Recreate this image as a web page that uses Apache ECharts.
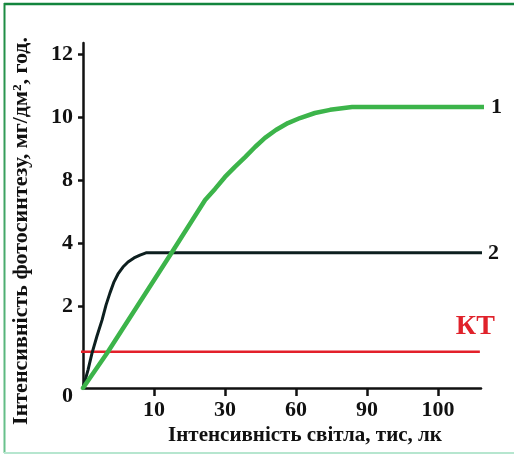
<!DOCTYPE html>
<html>
<head>
<meta charset="utf-8">
<script src="https://cdn.jsdelivr.net/npm/echarts@6/dist/echarts.min.js"></script>
<style>
  html, body { margin: 0; padding: 0; background: #fff; }
  #chart { width: 514px; height: 455px; }
</style>
</head>
<body>
<div id="chart"></div>
<script>
// Light intensity tick labels, thousand lux (placed on evenly spaced slots)
const xTickLabels = [0, 10, 30, 60, 90, 100];
// Photosynthesis rate tick labels, mg/dm² per hour
const yTickLabels = [0, 2, 4, 8, 10, 12];

// Curve 1 – light-loving plant
const curve1X = [0, 3.4, 15.1, 24.4, 27.2, 30, 34.2, 38.5, 42.7, 46.9, 51.5, 56.6, 61.7, 68.0, 74.4, 83.7, 106.9];
const curve1Y = [0, 0.86, 3.74, 6.78, 7.48, 8.12, 8.44, 8.75, 9.07, 9.36, 9.61, 9.83, 9.99, 10.15, 10.25, 10.34, 10.34];

// Curve 2 – shade-tolerant plant
const curve2X = [0, 0.7, 1.27, 1.97, 2.68, 3.24, 3.8, 4.37, 4.93, 5.63, 6.34, 7.18, 8.03, 8.87, 106.2];
const curve2Y = [0, 0.44, 0.86, 1.28, 1.67, 2.05, 2.44, 2.79, 3.04, 3.26, 3.42, 3.55, 3.64, 3.71, 3.71];

// Compensation point level (КТ)
const ktX = [-1, 105.9];
const ktY = [0.89, 0.89];

// Slot layout of the schematic axes: ticks are not proportional to value
const xSlots = [0, 1, 2, 3, 4, 5];
const ySlots = [0, 1.29, 2.29, 3.29, 4.29, 5.29];

// Piecewise-linear transform from a value to its slot on a schematic axis
function toSlot(v, ticks, slots) {
  let i = 0;
  while (i < ticks.length - 2 && v > ticks[i + 1]) i++;
  const t = (v - ticks[i]) / (ticks[i + 1] - ticks[i]);
  return slots[i] + t * (slots[i + 1] - slots[i]);
}
function build(xs, ys) {
  return xs.map((x, k) => [toSlot(x, xTickLabels, xSlots), toSlot(ys[k], yTickLabels, ySlots)]);
}
function labelFor(v, slots, labels) {
  const i = slots.findIndex(s => Math.abs(s - v) < 1e-6);
  return i >= 0 ? String(labels[i]) : '';
}

const SERIF = '"Liberation Serif", "Times New Roman", serif';
const INK = '#111111';

const chart = echarts.init(document.getElementById('chart'), null, { renderer: 'canvas' });

chart.setOption({
  animation: false,
  backgroundColor: '#ffffff',
  grid: { left: 83, top: 43, width: 398, height: 345, containLabel: false },
  xAxis: {
    type: 'value',
    min: 0,
    max: 5.606,
    splitLine: { show: false },
    axisLine: { show: true, onZero: false, lineStyle: { color: INK, width: 2.5 } },
    axisTick: {
      show: true, length: 8, inside: false,
      customValues: xSlots.slice(1),
      lineStyle: { color: INK, width: 2.5 }
    },
    axisLabel: {
      show: true,
      customValues: xSlots.slice(1),
      margin: 11,
      color: INK,
      fontFamily: SERIF,
      fontWeight: 'bold',
      fontSize: 22,
      formatter: v => labelFor(v, xSlots, xTickLabels)
    }
  },
  yAxis: {
    type: 'value',
    min: 0,
    max: 5.476,
    splitLine: { show: false },
    axisLine: { show: true, onZero: false, lineStyle: { color: INK, width: 2.5 } },
    axisTick: {
      show: true, length: 5, inside: false,
      customValues: ySlots.slice(1),
      lineStyle: { color: INK, width: 2.5 }
    },
    axisLabel: {
      show: true,
      customValues: ySlots,
      margin: 10,
      color: INK,
      fontFamily: SERIF,
      fontWeight: 'bold',
      fontSize: 22,
      formatter: v => {
        const s = labelFor(v, ySlots, yTickLabels);
        return v === 0 ? '{origin|' + s + '}' : s;
      },
      rich: {
        origin: {
          fontFamily: SERIF, fontWeight: 'bold', fontSize: 22, color: INK,
          padding: [16, 0, 0, 0]
        }
      }
    }
  },
  series: [
    {
      name: '1',
      type: 'line',
      data: build(curve1X, curve1Y),
      showSymbol: false,
      smooth: false,
      lineStyle: { color: '#3cb44a', width: 4.5, cap: 'round', join: 'round' },
      endLabel: {
        show: true, formatter: '1', distance: 7, color: INK,
        fontFamily: SERIF, fontWeight: 'bold', fontSize: 22
      },
      z: 3
    },
    {
      name: '2',
      type: 'line',
      data: build(curve2X, curve2Y),
      showSymbol: false,
      smooth: false,
      lineStyle: { color: '#0d1f1f', width: 3, join: 'round' },
      endLabel: {
        show: true, formatter: '2', distance: 6, color: INK,
        fontFamily: SERIF, fontWeight: 'bold', fontSize: 22
      },
      z: 2
    },
    {
      name: 'КТ',
      type: 'line',
      data: build(ktX, ktY),
      clip: false,
      showSymbol: false,
      lineStyle: { color: '#e3202a', width: 2.5 },
      endLabel: {
        show: true, formatter: 'КТ', distance: 5, offset: [-29, -25],
        color: '#e0222b', fontFamily: SERIF, fontWeight: 'bold', fontSize: 28
      },
      z: 1
    }
  ],
  graphic: [
    // frame
    { type: 'line', shape: { x1: 4, y1: 4, x2: 514, y2: 4 }, style: { stroke: '#13853d', lineWidth: 2.5 }, silent: true },
    {
      type: 'line', shape: { x1: 4.5, y1: 3, x2: 4.5, y2: 453 }, silent: true,
      style: {
        lineWidth: 2,
        stroke: new echarts.graphic.LinearGradient(0, 0, 0, 1, [
          { offset: 0, color: '#1a8a40' }, { offset: 1, color: '#6cc38f' }
        ])
      }
    },
    { type: 'line', shape: { x1: 4, y1: 453, x2: 514, y2: 453 }, style: { stroke: '#b6e6cf', lineWidth: 2 }, silent: true },
    // axis titles
    {
      type: 'text', x: 305, y: 436, silent: true,
      style: {
        text: 'Інтенсивність світла, тис, лк',
        fill: INK, font: 'bold 21px ' + SERIF,
        textAlign: 'center', textVerticalAlign: 'middle'
      }
    },
    {
      type: 'text', x: 21, y: 231, rotation: Math.PI / 2, silent: true,
      style: {
        text: 'Інтенсивність фотосинтезу, мг/дм², год.',
        fill: INK, font: 'bold 22px ' + SERIF,
        textAlign: 'center', textVerticalAlign: 'middle'
      }
    }
  ]
});
</script>
</body>
</html>
